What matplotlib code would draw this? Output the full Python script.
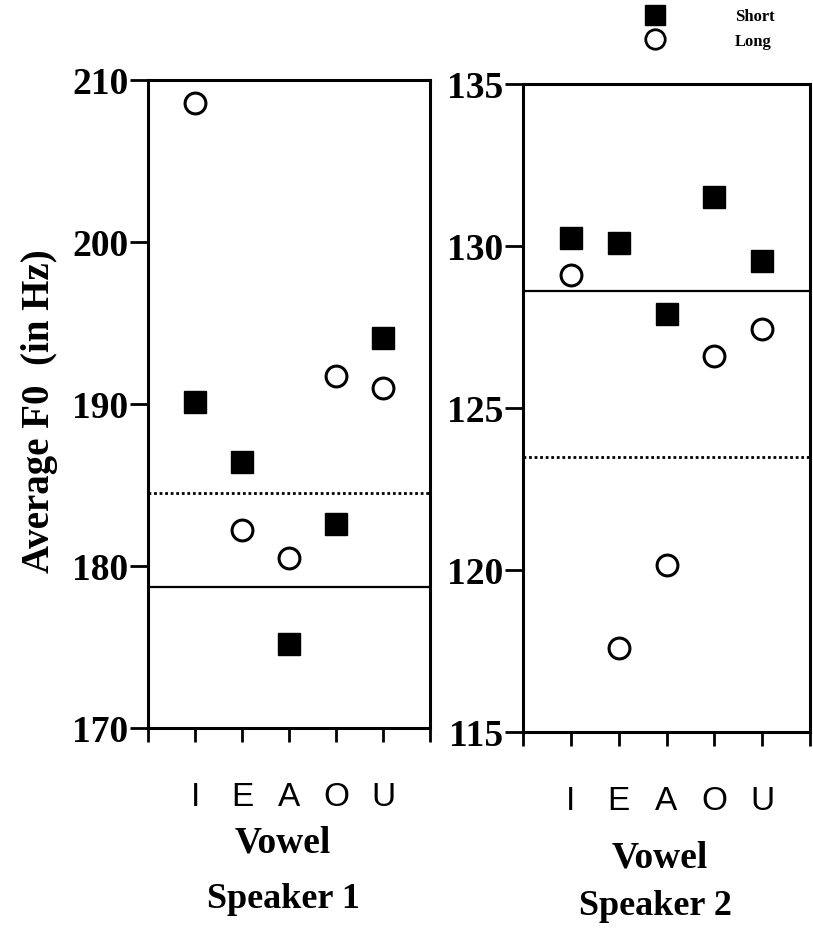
import matplotlib
matplotlib.use("Agg")
import matplotlib.pyplot as plt
from matplotlib.lines import Line2D

vowels = ["I", "E", "A", "O", "U"]
s1_short = [190.1, 186.4, 175.2, 182.6, 194.1]
s1_long = [208.6, 182.2, 180.5, 191.7, 191.0]
s1_solid = 178.7
s1_dotted = 184.5
s2_short = [130.25, 130.1, 127.9, 131.5, 129.55]
s2_long = [129.1, 117.6, 120.15, 126.6, 127.45]
s2_solid = 128.6
s2_dotted = 123.5

W, H = 813, 929
fig = plt.figure(figsize=(W / 100, H / 100), dpi=100)
serif = "Liberation Serif"
sans = "Liberation Sans"

def make_panel(rect, short, long_, solid, dotted, ylim, yticks):
    ax = fig.add_axes(rect)
    x = list(range(1, len(vowels) + 1))
    ax.plot(x, short, linestyle="none", marker="s", markersize=16,
            color="black", markeredgecolor="black")
    ax.plot(x, long_, linestyle="none", marker="o", markersize=15,
            markerfacecolor="white", markeredgecolor="black", markeredgewidth=2.2)
    ax.axhline(solid, color="black", lw=1.6)
    ax.axhline(dotted, color="black", lw=2.0, linestyle=(0, (1, 1)))
    ax.set_xlim(0, 6)
    ax.set_ylim(*ylim)
    ax.set_xticks(range(0, 7))
    ax.set_xticklabels([""] + vowels + [""], fontfamily=sans, fontsize=24)
    ax.set_yticks(yticks)
    ax.set_yticklabels([str(t) for t in yticks], fontfamily=serif,
                       fontsize=27, fontweight="bold")
    ax.tick_params(axis="x", direction="out", length=10, width=2, pad=28)
    ax.tick_params(axis="y", direction="out", length=13, width=2, pad=1)
    for sp in ax.spines.values():
        sp.set_linewidth(2.2)
    return ax

ax1 = make_panel([148 / W, 1 - 729 / H, 282 / W, 648 / H],
                 s1_short, s1_long, s1_solid, s1_dotted,
                 (170, 210), [170, 180, 190, 200, 210])
ax2 = make_panel([523 / W, 1 - 733 / H, 287 / W, 648 / H],
                 s2_short, s2_long, s2_solid, s2_dotted,
                 (115, 135), [115, 120, 125, 130, 135])

fig.text(40 / W, 1 - 411 / H, "Average F0  (in Hz)", rotation=90,
         ha="center", va="center", fontfamily=serif, fontsize=28,
         fontweight="bold")
fig.text(283 / W, 1 - 843 / H, "Vowel", ha="center", va="center",
         fontfamily=serif, fontsize=27, fontweight="bold")
fig.text(283 / W, 1 - 900 / H, "Speaker 1", ha="center", va="center",
         fontfamily=serif, fontsize=26, fontweight="bold")
fig.text(660 / W, 1 - 858 / H, "Vowel", ha="center", va="center",
         fontfamily=serif, fontsize=27, fontweight="bold")
fig.text(655 / W, 1 - 907 / H, "Speaker 2", ha="center", va="center",
         fontfamily=serif, fontsize=26, fontweight="bold")

# legend
fig.lines.append(Line2D([655 / W], [1 - 16 / H], transform=fig.transFigure,
                        marker="s", markersize=15, color="black", linestyle="none"))
fig.lines.append(Line2D([655 / W], [1 - 40 / H], transform=fig.transFigure,
                        marker="o", markersize=14, markerfacecolor="white",
                        markeredgecolor="black", markeredgewidth=2, linestyle="none"))
fig.text(735 / W, 1 - 17 / H, "Short", ha="left", va="center",
         fontfamily=serif, fontsize=12, fontweight="bold")
fig.text(735 / W, 1 - 42 / H, "Long", ha="left", va="center",
         fontfamily=serif, fontsize=12, fontweight="bold")

fig.savefig("out.png", dpi=100, facecolor="white")
